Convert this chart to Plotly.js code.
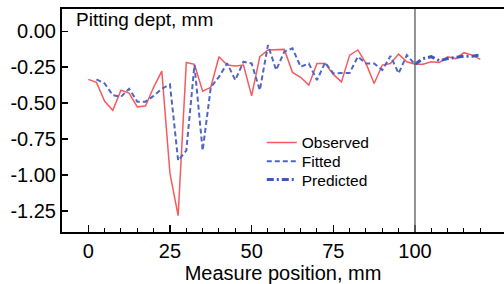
<!DOCTYPE html>
<html>
<head>
<meta charset="utf-8">
<script src="https://cdn.plot.ly/plotly-3.0.1.min.js"></script>
<style>html,body{margin:0;padding:0;background:#fff;}#chart{width:504px;height:284px;}</style>
</head>
<body>
<div id="chart"></div>
<script>
// Observed pitting depth (mm) every 2.5 mm from 0 to 120
const obsX = [0,2.5,5,7.5,10,12.5,15,17.5,20,22.5,25,27.5,30,32.5,35,37.5,40,42.5,45,47.5,50,52.5,55,57.5,60,62.5,65,67.5,70,72.5,75,77.5,80,82.5,85,87.5,90,92.5,95,97.5,100,102.5,105,107.5,110,112.5,115,117.5,120];
const obsY = [-0.335,-0.356,-0.487,-0.55,-0.41,-0.43,-0.526,-0.52,-0.39,-0.277,-0.99,-1.283,-0.217,-0.23,-0.417,-0.39,-0.177,-0.235,-0.242,-0.235,-0.45,-0.177,-0.13,-0.13,-0.126,-0.286,-0.32,-0.375,-0.224,-0.224,-0.30,-0.352,-0.166,-0.13,-0.224,-0.363,-0.235,-0.224,-0.159,-0.212,-0.23,-0.23,-0.212,-0.217,-0.177,-0.19,-0.149,-0.166,-0.196];

// Fitted values 2.5 .. 100
const fitX = [2.5,5,7.5,10,12.5,15,17.5,20,22.5,25,27.5,30,32.5,35,37.5,40,42.5,45,47.5,50,52.5,55,57.5,60,62.5,65,67.5,70,72.5,75,77.5,80,82.5,85,87.5,90,92.5,95,97.5,100];
const fitY = [-0.335,-0.363,-0.445,-0.456,-0.40,-0.49,-0.49,-0.45,-0.40,-0.37,-0.90,-0.83,-0.235,-0.83,-0.39,-0.317,-0.223,-0.34,-0.212,-0.224,-0.41,-0.096,-0.27,-0.142,-0.119,-0.247,-0.224,-0.34,-0.217,-0.293,-0.29,-0.29,-0.177,-0.224,-0.224,-0.27,-0.172,-0.293,-0.166,-0.23];

// Predicted values 100 .. 120
const predX = [100,102.5,105,107.5,110,112.5,115,117.5,120];
const predY = [-0.23,-0.19,-0.177,-0.205,-0.19,-0.182,-0.173,-0.173,-0.166];

// Axis ticks
const xTickVals = [0,25,50,75,100];
const xTickText = ["0","25","50","75","100"];
const xMinorVals = [5,10,15,20,30,35,40,45,55,60,65,70,80,85,90,95,105,110,115,120];
const yTickVals = [0,-0.25,-0.5,-0.75,-1,-1.25];
const yTickText = ["0.00","-0.25","-0.50","-0.75","-1.00","-1.25"];
const splitX = 100;

const FONT = "Liberation Sans, Arial, sans-serif";

const traces = [
  {x: obsX, y: obsY, name: "Observed", type: "scatter", mode: "lines", legend: "legend",
   line: {color: "#f55a5f", width: 1.5}},
  {x: fitX, y: fitY, name: "Fitted", type: "scatter", mode: "lines", legend: "legend2",
   line: {color: "#4f66c4", width: 2, dash: "5px,3px"}},
  {x: predX, y: predY, name: "Predicted", type: "scatter", mode: "lines", legend: "legend3",
   line: {color: "#3e57b8", width: 3, dash: "7px,3px,2px,3px"}}
];

function leg(y) {
  return {x: 0.452, xanchor: "left", y: y, yanchor: "middle",
          bgcolor: "rgba(0,0,0,0)", borderwidth: 0,
          font: {family: FONT, size: 15.5, color: "#000"}, itemwidth: 30};
}

const layout = {
  width: 504, height: 284,
  margin: {l: 62, r: 0, t: 9, b: 52, pad: 0},
  paper_bgcolor: "#fff", plot_bgcolor: "#fff",
  font: {family: FONT, color: "#000", size: 20},
  showlegend: true,
  legend: leg(0.400),
  legend2: leg(0.315),
  legend3: leg(0.233),
  xaxis: {
    range: [-8.05, 127.25], showgrid: false, zeroline: false,
    showline: true, linecolor: "#000", linewidth: 2, mirror: true,
    ticks: "inside", ticklen: 7, tickwidth: 1.5, tickcolor: "#000",
    tickmode: "array", tickvals: xTickVals, ticktext: xTickText,
    tickfont: {family: FONT, size: 20, color: "#000"},
    minor: {tickmode: "array", tickvals: xMinorVals, ticks: "inside", ticklen: 4, tickwidth: 1, tickcolor: "#000", showgrid: false},
    title: {text: "Measure position, mm", font: {family: FONT, size: 20, color: "#000"}, standoff: 2}
  },
  yaxis: {
    range: [-1.397, 0.155], showgrid: false, zeroline: false,
    showline: true, linecolor: "#000", linewidth: 2,
    ticks: "inside", ticklen: 6, tickwidth: 1.5, tickcolor: "#000",
    tickmode: "array", tickvals: yTickVals, ticktext: yTickText,
    tickfont: {family: FONT, size: 20, color: "#000"}
  },
  shapes: [
    {type: "line", xref: "x", yref: "paper", x0: splitX, x1: splitX, y0: 0, y1: 1,
     line: {color: "#707070", width: 1.5}}
  ],
  annotations: [
    {text: "Pitting dept, mm", xref: "paper", yref: "paper", x: 0.028, y: 0.951,
     xanchor: "left", yanchor: "middle", showarrow: false,
     font: {family: FONT, size: 19, color: "#000"}}
  ]
};

Plotly.newPlot("chart", traces, layout, {displayModeBar: false, staticPlot: true});
</script>
</body>
</html>
